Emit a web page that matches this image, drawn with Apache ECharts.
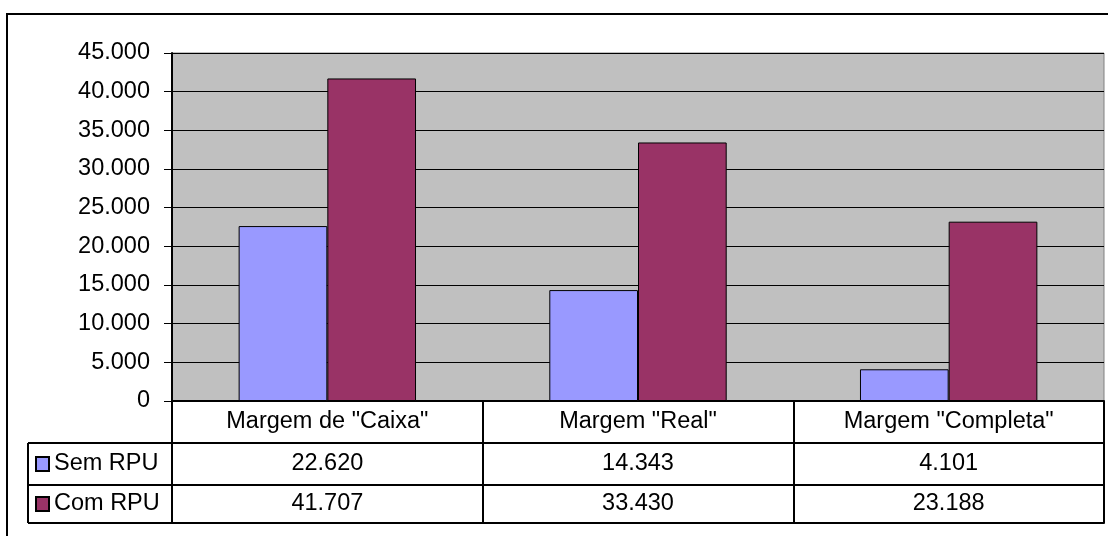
<!DOCTYPE html>
<html lang="pt">
<head>
  <meta charset="UTF-8">
  <title>Margens - Sem RPU / Com RPU</title>
  <script src="https://cdn.jsdelivr.net/npm/echarts@6.0.0/dist/echarts.min.js"></script>
  <style>
    html, body, #main {
      margin: 0;
      padding: 0;
      width: 1108px;
      height: 536px;
      background: #fff;
    }
  </style>
</head>
<body>
  <div id="main"></div>

  <script>
    const categories = ['Margem de "Caixa"', 'Margem "Real"', 'Margem "Completa"'];
    const semRPU = [22620, 14343, 4101];
    const comRPU = [41707, 33430, 23188];
    const seriesNames = ['Sem RPU', 'Com RPU'];

    const FONT = 'Liberation Sans, Arial, sans-serif';
    const FS = 23.5;

    // 45000 -> "45.000"
    const fmt = v => String(v).replace(/\B(?=(\d{3})+(?!\d))/g, '.');

    // plot area
    const gLeft = 172, gTop = 53, gRight = 4, gBottom = 135;
    const rowH = 42;
    const tableLeft = 28;

    const chart = echarts.init(document.getElementById('main'));

    const tableAxis = (data, offset, showLabel, margin) => ({
      type: 'category',
      position: 'bottom',
      offset: offset,
      data: data,
      axisLine: { show: true, lineStyle: { color: '#000', width: 2 } },
      axisTick: { show: false },
      splitLine: { show: false },
      axisLabel: {
        show: showLabel,
        margin: margin,
        verticalAlign: 'middle',
        color: '#000',
        fontSize: FS,
        fontFamily: FONT
      }
    });

    const option = {
      animation: false,
      backgroundColor: '#fff',
      grid: {
        left: gLeft, top: gTop, right: gRight, bottom: gBottom,
        show: true,
        backgroundColor: '#C0C0C0',
        borderColor: '#808080',
        borderWidth: 1
      },
      legend: {
        orient: 'vertical',
        left: 35,
        top: 451,
        padding: 0,
        itemWidth: 13,
        itemHeight: 14,
        itemGap: 14,
        itemTextGap: 7,
        icon: 'rect',
        selectedMode: false,
        data: seriesNames,
        textStyle: { color: '#000', fontSize: FS, fontFamily: FONT, lineHeight: 26 }
      },
      xAxis: [
        {
          type: 'category',
          data: categories,
          axisLine: { lineStyle: { color: '#000', width: 2 } },
          axisTick: { show: true, length: 3 * rowH - 4, lineStyle: { color: '#000', width: 2 } },
          axisLabel: {
            margin: 21,
            verticalAlign: 'middle',
            color: '#000',
            fontSize: FS,
            fontFamily: FONT,
            interval: 0
          }
        },
        tableAxis(semRPU.map(fmt), rowH, true, 21),
        tableAxis(comRPU.map(fmt), 2 * rowH, true, 19),
        tableAxis(categories, 3 * rowH - 4, false, 0)
      ],
      yAxis: {
        type: 'value',
        min: 0,
        max: 45000,
        interval: 5000,
        axisLine: { show: true, lineStyle: { color: '#000', width: 2 } },
        axisTick: { show: true, inside: false, length: 8, lineStyle: { color: '#000', width: 1 } },
        splitLine: { show: true, lineStyle: { color: '#000', width: 1 } },
        axisLabel: {
          margin: 22,
          color: '#000',
          fontSize: FS,
          fontFamily: FONT,
          formatter: fmt
        }
      },
      series: [
        {
          name: seriesNames[0],
          type: 'bar',
          data: semRPU,
          barGap: '0%',
          barCategoryGap: '42.9%',
          itemStyle: { color: '#9999FF', borderColor: '#000', borderWidth: 1 }
        },
        {
          name: seriesNames[1],
          type: 'bar',
          data: comRPU,
          barGap: '0%',
          barCategoryGap: '42.9%',
          itemStyle: { color: '#993366', borderColor: '#000', borderWidth: 1 }
        }
      ]
    };

    chart.setOption(option);

    // frame lines for the legend column of the data table and the outer chart border
    const zeroY = chart.convertToPixel({ yAxisIndex: 0 }, 0);
    const lineStyle = { stroke: '#000', lineWidth: 2 };
    const hLine = y => ({ type: 'line', shape: { x1: tableLeft, y1: y, x2: gLeft, y2: y }, style: lineStyle, silent: true });
    chart.setOption({
      graphic: [
        { type: 'rect', shape: { x: 7, y: 14, width: 1120, height: 540 }, style: { fill: 'none', stroke: '#000', lineWidth: 2 }, silent: true },
        hLine(zeroY + rowH),
        hLine(zeroY + 2 * rowH),
        hLine(zeroY + 3 * rowH - 4),
        { type: 'line', shape: { x1: tableLeft, y1: zeroY + rowH, x2: tableLeft, y2: zeroY + 3 * rowH - 4 }, style: lineStyle, silent: true }
      ]
    });
  </script>
</body>
</html>
